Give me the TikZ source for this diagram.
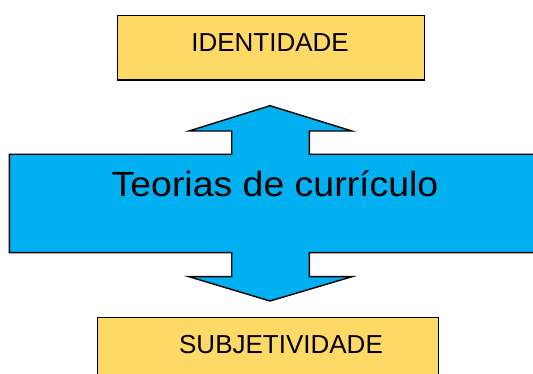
\documentclass[tikz,border=0pt]{standalone}
\usepackage{fontspec}
\setmainfont{Liberation Sans}
\definecolor{boxyellow}{HTML}{FFD966}
\definecolor{arrowblue}{HTML}{00B0F0}
\begin{document}
\begin{tikzpicture}[x=1pt,y=-1pt,
  ybox/.style={draw=black,line width=1.4pt,fill=boxyellow,rectangle,inner sep=0pt},
  lbl/.style={anchor=base,inner sep=0pt,font=\fontsize{26}{30}\selectfont}]
\useasboundingbox (0,0) rectangle (533,374);
\clip (0,0) rectangle (533,374);
\fill[white] (0,0) rectangle (533,374);
% top box
\node[ybox,minimum width=306.6pt,minimum height=64.3pt] (top) at (271,47.9) {};
\node[lbl] (toptxt) at (270,51.7) {IDENTIDADE};
% double arrow
\draw[line width=1.4pt,fill=arrowblue,line join=miter]
  (270,105.7) -- (352,131) -- (309.3,131) -- (309.3,154.3) -- (545,154.3)
  -- (545,252.7) -- (309.3,252.7) -- (309.3,276.7) -- (352,276.7) -- (270,301)
  -- (189,276.7) -- (231.7,276.7) -- (231.7,252.7) -- (9.3,252.7) -- (9.3,154.3)
  -- (231.7,154.3) -- (231.7,131) -- (189,131) -- cycle;
\node[anchor=base,inner sep=0pt,font=\fontsize{35}{40}\selectfont,xscale=1.07] (mid) at (275,196.7) {Teorias de currículo};
% bottom box
\node[ybox,minimum width=341pt,minimum height=70pt] (bot) at (267.8,352.3) {};
\node[lbl] (bottxt) at (281,353.3) {SUBJETIVIDADE};
\end{tikzpicture}
\end{document}
